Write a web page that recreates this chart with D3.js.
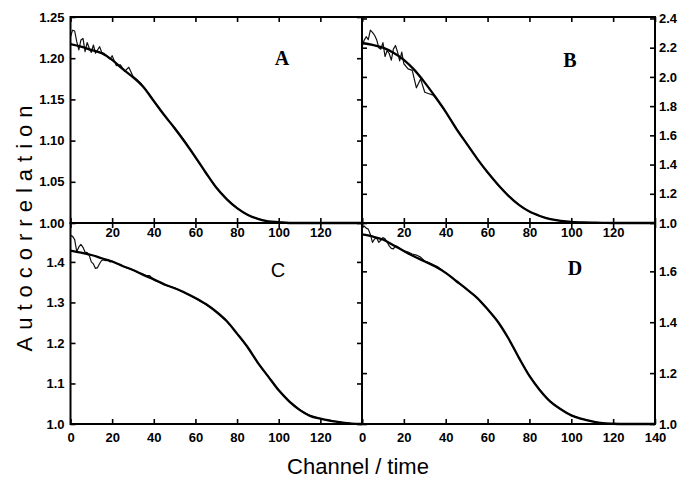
<!DOCTYPE html>
<html>
<head>
<meta charset="utf-8">
<script src="https://cdn.jsdelivr.net/npm/d3@7"></script>
<style>
  body { margin: 0; background: #fff; }
  svg { display: block; }
</style>
</head>
<body>
<div id="chart"></div>
<script>
// -------------------------------
// Autocorrelation panels A-D (measured data + fitted curve)
// -------------------------------

// channels at which the fitted curve and the measured data were read
const fitChannels = [0, 5, 10, 15, 20, 25, 30, 35, 40, 45, 50, 55, 60, 65, 70,
  75, 80, 85, 90, 95, 100, 105, 110, 115, 120, 125, 130, 135, 140];
const dataChannels = [0, 1, 2, 3, 4, 5, 6, 7, 8, 9, 10, 11, 12, 13, 14, 15, 16, 17, 18, 19, 20,
  22, 24, 26, 28, 30, 32, 34, 36, 38, 40,
  45, 50, 55, 60, 65, 70, 75, 80, 85, 90, 95, 100, 105, 110, 115, 120, 125, 130, 135, 140];

// Panel A
const fitA = [1.217, 1.214, 1.210, 1.206, 1.198, 1.187, 1.177, 1.165, 1.148, 1.131, 1.115, 1.098,
  1.080, 1.061, 1.043, 1.029, 1.018, 1.010, 1.005, 1.002, 1.001, 1.000, 1.000, 1.000, 1.000,
  1.000, 1.000, 1.000, 1.000];
const dataA = [1.226, 1.234, 1.233, 1.220, 1.210, 1.222, 1.224, 1.208, 1.219, 1.212, 1.207,
  1.216, 1.206, 1.210, 1.214, 1.207, 1.206, 1.204, 1.201, 1.199, 1.203,
  1.191, 1.192, 1.184, 1.189, 1.178, 1.174, 1.169, 1.162, 1.156, 1.148,
  1.131, 1.116, 1.099, 1.079, 1.061, 1.043, 1.029, 1.018, 1.010, 1.005, 1.002, 1.001,
  1.000, 1.000, 1.000, 1.000, 1.000, 1.000, 1.000, 1.000];

// Panel B
const fitB = [2.232, 2.220, 2.200, 2.165, 2.117, 2.048, 1.961, 1.864, 1.761, 1.646, 1.543, 1.441,
  1.347, 1.262, 1.186, 1.124, 1.078, 1.048, 1.026, 1.014, 1.007, 1.004, 1.002, 1.001, 1.000,
  1.000, 1.000, 1.000, 1.000];
const dataB = [2.205, 2.250, 2.275, 2.255, 2.320, 2.305, 2.285, 2.255, 2.200, 2.190, 2.235,
  2.140, 2.180, 2.160, 2.115, 2.190, 2.215, 2.170, 2.110, 2.170, 2.090,
  2.055, 2.045, 1.925, 1.985, 1.895, 1.885, 1.875, 1.842, 1.800, 1.760,
  1.650, 1.545, 1.440, 1.345, 1.260, 1.187, 1.124, 1.077, 1.047, 1.026, 1.014, 1.007,
  1.004, 1.002, 1.001, 1.000, 1.000, 1.000, 1.000, 1.000];

// Panel C
const fitC = [1.428, 1.423, 1.417, 1.409, 1.401, 1.390, 1.380, 1.368, 1.357, 1.345, 1.335, 1.324,
  1.311, 1.296, 1.277, 1.254, 1.223, 1.190, 1.151, 1.117, 1.083, 1.056, 1.035, 1.020, 1.013,
  1.008, 1.004, 1.001, 1.000];
const dataC = [1.466, 1.463, 1.455, 1.425, 1.437, 1.443, 1.436, 1.424, 1.423, 1.416, 1.400,
  1.395, 1.384, 1.386, 1.396, 1.404, 1.405, 1.403, 1.406, 1.400, 1.402,
  1.396, 1.393, 1.387, 1.384, 1.380, 1.375, 1.372, 1.367, 1.366, 1.356,
  1.343, 1.336, 1.323, 1.310, 1.295, 1.277, 1.254, 1.223, 1.190, 1.151, 1.117, 1.084,
  1.057, 1.036, 1.021, 1.013, 1.008, 1.004, 1.001, 1.000];

// Panel D
const fitD = [1.745, 1.737, 1.725, 1.703, 1.680, 1.658, 1.639, 1.619, 1.594, 1.562, 1.530, 1.496,
  1.451, 1.401, 1.336, 1.260, 1.189, 1.133, 1.088, 1.058, 1.034, 1.020, 1.010, 1.003, 1.001,
  1.000, 1.000, 1.000, 1.000];
const dataD = [1.772, 1.778, 1.770, 1.766, 1.745, 1.714, 1.727, 1.731, 1.714, 1.722, 1.733,
  1.728, 1.715, 1.700, 1.690, 1.688, 1.700, 1.697, 1.690, 1.684, 1.681,
  1.676, 1.668, 1.664, 1.656, 1.640, 1.634, 1.626, 1.619, 1.606, 1.594,
  1.562, 1.530, 1.496, 1.451, 1.401, 1.336, 1.260, 1.189, 1.133, 1.088, 1.058, 1.034,
  1.020, 1.010, 1.003, 1.001, 1.000, 1.000, 1.000, 1.000];

// tick values
const xTicks = [0, 20, 40, 60, 80, 100, 120, 140];
const xLabelsTop = [20, 40, 60, 80, 100, 120];
const xLabelsC = [0, 20, 40, 60, 80, 100, 120];
const xLabelsD = [0, 20, 40, 60, 80, 100, 120, 140];
const yTicksA = [1.00, 1.05, 1.10, 1.15, 1.20, 1.25];
const yTicksB = [1.0, 1.2, 1.4, 1.6, 1.8, 2.0, 2.2, 2.4];
const yTicksC = [1.0, 1.1, 1.2, 1.3, 1.4];
const yTicksD = [1.0, 1.2, 1.4, 1.6];

// ----- Layout -----
const W = 681, H = 479;
const leftX = 70.5, midX = 362, rightX = 655;
const topY = 17, midY = 223, bottomY = 424;

const panels = [
  { name: "A", fit: fitA, data: dataA, yDomain: [1, 1.25], yTicks: yTicksA, fmt: ".2f",
    side: "left", xLabels: xLabelsTop, pad: 5, box: [leftX, midX, topY, midY],
    letter: [282, 65], serif: true },
  { name: "B", fit: fitB, data: dataB, yDomain: [1, 2.41], yTicks: yTicksB, fmt: ".1f",
    side: "right", xLabels: xLabelsTop, pad: 5, box: [midX, rightX, topY, midY],
    letter: [570, 67], serif: true },
  { name: "C", fit: fitC, data: dataC, yDomain: [1, 1.496], yTicks: yTicksC, fmt: ".1f",
    side: "left", xLabels: xLabelsC, pad: 9, box: [leftX, midX, midY, bottomY],
    letter: [278, 277], serif: false },
  { name: "D", fit: fitD, data: dataD, yDomain: [1, 1.79], yTicks: yTicksD, fmt: ".1f",
    side: "right", xLabels: xLabelsD, pad: 9, box: [midX, rightX, midY, bottomY],
    letter: [575, 275], serif: true }
];

const svg = d3.select("#chart")
  .append("svg")
  .attr("width", W)
  .attr("height", H)
  .attr("viewBox", `0 0 ${W} ${H}`);

const tickFont = "'Liberation Sans', Arial, sans-serif";

panels.forEach(p => {
  const [x0, x1, y0, y1] = p.box;

  // ----- Scales -----
  const x = d3.scaleLinear().domain([0, 140]).range([x0, x1]);
  const y = d3.scaleLinear().domain(p.yDomain).range([y1, y0]);

  const g = svg.append("g");

  // ----- Lines -----
  const fitLine = d3.line()
    .x((d, i) => x(fitChannels[i]))
    .y(d => y(d))
    .curve(d3.curveMonotoneX);

  const dataLine = d3.line()
    .x((d, i) => x(dataChannels[i]))
    .y(d => y(d));

  g.append("path")
    .datum(p.data)
    .attr("d", dataLine)
    .attr("fill", "none")
    .attr("stroke", "#111")
    .attr("stroke-width", 1.2)
    .attr("stroke-linejoin", "round");

  g.append("path")
    .datum(p.fit)
    .attr("d", fitLine)
    .attr("fill", "none")
    .attr("stroke", "#000")
    .attr("stroke-width", 2.3)
    .attr("stroke-linejoin", "round");

  // ----- Axes (inward ticks on every side) -----
  const yFmt = d3.format(p.fmt);
  const labelled = p.side;

  const yLeft = d3.axisLeft(y).tickValues(p.yTicks).tickSize(-5).tickPadding(6)
    .tickFormat(labelled === "left" ? yFmt : "");
  const yRight = d3.axisRight(y).tickValues(p.yTicks).tickSize(-5).tickPadding(4)
    .tickFormat(labelled === "right" ? yFmt : "");
  const xTop = d3.axisTop(x).tickValues(xTicks).tickSize(-5).tickFormat("");
  const xBottom = d3.axisBottom(x).tickValues(xTicks).tickSize(-5).tickPadding(p.pad)
    .tickFormat(d => p.xLabels.includes(d) ? d : "");

  const axes = [
    [yLeft, `translate(${x0},0)`],
    [yRight, `translate(${x1},0)`],
    [xTop, `translate(0,${y0})`],
    [xBottom, `translate(0,${y1})`]
  ];

  axes.forEach(([axis, tr]) => {
    const a = g.append("g").attr("transform", tr).call(axis);
    a.select(".domain").remove();
    a.selectAll("line").attr("stroke", "#000").attr("stroke-width", 1.6);
    a.selectAll("text")
      .style("font-family", tickFont)
      .style("font-size", "13px")
      .style("font-weight", "700")
      .attr("fill", "#000");
  });

  // ----- Frame -----
  g.append("rect")
    .attr("x", x0)
    .attr("y", y0)
    .attr("width", x1 - x0)
    .attr("height", y1 - y0)
    .attr("fill", "none")
    .attr("stroke", "#000")
    .attr("stroke-width", 2);

  // ----- Panel letter -----
  g.append("text")
    .attr("x", p.letter[0])
    .attr("y", p.letter[1])
    .attr("text-anchor", "middle")
    .style("font-family", p.serif ? "'Liberation Serif', 'Times New Roman', serif" : tickFont)
    .style("font-size", "20px")
    .style("font-weight", p.serif ? "700" : "400")
    .text(p.name);
});

// ----- Axis titles -----
svg.append("text")
  .attr("transform", "rotate(-90)")
  .attr("x", -225)
  .attr("y", 32)
  .attr("text-anchor", "middle")
  .style("font-family", tickFont)
  .style("font-size", "22px")
  .style("letter-spacing", "7px")
  .text("Autocorrelation");

svg.append("text")
  .attr("x", 358)
  .attr("y", 474)
  .attr("text-anchor", "middle")
  .style("font-family", tickFont)
  .style("font-size", "22px")
  .text("Channel / time");
</script>
</body>
</html>
